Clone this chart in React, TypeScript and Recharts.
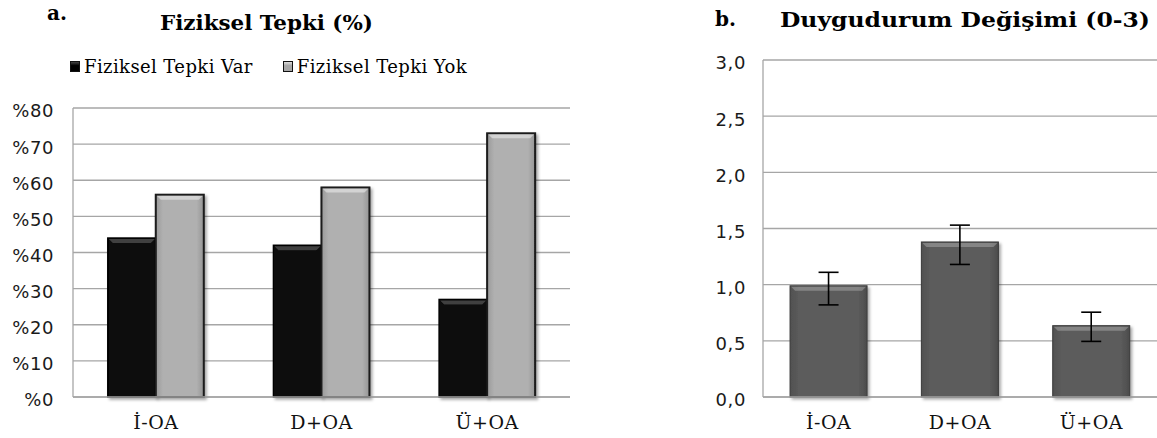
import React from 'react';
import { BarChart, Bar, XAxis, YAxis, CartesianGrid, Legend, ErrorBar } from 'recharts';

// ---- data ----
const categories = ['İ-OA', 'D+OA', 'Ü+OA'];
const tepkiVar = [44, 42, 27];
const tepkiYok = [56, 58, 73];
const percentTicks = [0, 10, 20, 30, 40, 50, 60, 70, 80];
const moodMeans = [0.99, 1.38, 0.635];
const moodErrLow = [0.17, 0.2, 0.14];
const moodErrHigh = [0.12, 0.15, 0.12];
const moodTicks = [0, 0.5, 1, 1.5, 2, 2.5, 3];

const leftData = categories.map((c, i) => ({ name: c, var: tepkiVar[i], yok: tepkiYok[i] }));
const rightData = categories.map((c, i) => ({ name: c, mean: moodMeans[i], err: [moodErrLow[i], moodErrHigh[i]] }));

const GRID = '#a6a6a6';
const SERIF = '"DejaVu Serif", serif';
const SANS = '"DejaVu Sans", sans-serif';

const BevelBar = (props: any) => {
  const { x, y, width, height, gradId, stroke, highlight, sw } = props;
  if (!height || height <= 0) return null;
  const b = Math.min(4, height / 2);
  return (
    <g filter="url(#barShadow)">
      <rect x={x} y={y} width={width} height={height} fill={`url(#${gradId})`} stroke={stroke} strokeWidth={sw} />
      <polygon
        points={`${x + 1},${y + 1} ${x + width - 1},${y + 1} ${x + width - 1 - b},${y + 1 + b} ${x + 1 + b},${y + 1 + b}`}
        fill={highlight}
      />
    </g>
  );
};

const Defs = () => (
  <defs>
    <filter id="barShadow" x="-20%" y="-10%" width="150%" height="130%">
      <feDropShadow dx="2" dy="2" stdDeviation="1.5" floodColor="#000" floodOpacity="0.35" />
    </filter>
    <linearGradient id="gVar" x1="0" y1="0" x2="1" y2="0">
      <stop offset="0%" stopColor="#0a0a0a" />
      <stop offset="100%" stopColor="#0a0a0a" />
    </linearGradient>
    <linearGradient id="gYok" x1="0" y1="0" x2="1" y2="0">
      <stop offset="0%" stopColor="#9a9a9a" />
      <stop offset="15%" stopColor="#b0b0b0" />
      <stop offset="85%" stopColor="#b0b0b0" />
      <stop offset="100%" stopColor="#959595" />
    </linearGradient>
    <linearGradient id="gMood" x1="0" y1="0" x2="1" y2="0">
      <stop offset="0%" stopColor="#505050" />
      <stop offset="12%" stopColor="#5c5c5c" />
      <stop offset="88%" stopColor="#5c5c5c" />
      <stop offset="100%" stopColor="#4c4c4c" />
    </linearGradient>
  </defs>
);

const iconBg: Record<string, string> = {
  '#000': 'linear-gradient(#444, #000 40%)',
  '#a6a6a6': 'linear-gradient(#ddd, #a6a6a6 40%)',
};

const LeftLegend = (props: any) => {
  const { payload = [] } = props;
  return (
    <div style={{ display: 'flex', alignItems: 'center', fontFamily: SERIF, fontSize: 18, letterSpacing: 0.4, color: '#000', whiteSpace: 'nowrap' }}>
      {payload.map((p: any, i: number) => (
        <div key={i} style={{ display: 'flex', alignItems: 'center', marginRight: 30 }}>
          <span
            style={{
              display: 'inline-block',
              width: 8,
              height: 9,
              background: iconBg[p.color] || p.color,
              border: '1px solid #111',
              marginRight: 4,
            }}
          />
          <span>{p.value}</span>
        </div>
      ))}
    </div>
  );
};

const yTickStyle = { fontFamily: SANS, fontSize: 18, fill: '#1a1a1a', letterSpacing: 0.6, dy: 3 };
const xTickStyle = { fontFamily: SERIF, fontSize: 19, fill: '#111', letterSpacing: 0.5 };

export default function App() {
  return (
    <div style={{ position: 'absolute', left: 0, top: 0, width: 1157, height: 438, background: '#fff', overflow: 'hidden' }}>
      <div style={{ position: 'absolute', left: 0, top: 0 }}>
        <BarChart width={580} height={438} data={leftData} margin={{ top: 108, right: 10, bottom: 11, left: 0 }} barCategoryGap="21%" barGap={0}>
          <Defs />
          <CartesianGrid vertical={false} stroke={GRID} strokeWidth={1.3} />
          <XAxis dataKey="name" height={30} tickSize={0} tickMargin={19} tickLine={false} axisLine={{ stroke: GRID, strokeWidth: 1.3 }} tick={xTickStyle} />
          <YAxis
            width={73}
            domain={[0, 80]}
            ticks={percentTicks}
            interval={0}
            tickSize={0}
            tickMargin={19}
            tickLine={false}
            axisLine={{ stroke: GRID, strokeWidth: 1.3 }}
            tick={yTickStyle}
            tickFormatter={(v: number) => `%${v}`}
          />
          <Legend
            layout="horizontal"
            verticalAlign="middle"
            align="center"
            content={<LeftLegend />}
            wrapperStyle={{ top: 56, left: 70, width: 'auto' }}
          />
          <Bar
            dataKey="var"
            name="Fiziksel Tepki Var"
            fill="#000"
            isAnimationActive={false}
            shape={(p: any) => <BevelBar {...p} gradId="gVar" stroke="#000" sw={1.5} highlight="rgba(255,255,255,0.22)" />}
          />
          <Bar
            dataKey="yok"
            name="Fiziksel Tepki Yok"
            fill="#a6a6a6"
            isAnimationActive={false}
            shape={(p: any) => <BevelBar {...p} gradId="gYok" stroke="#1a1a1a" sw={2} highlight="rgba(255,255,255,0.45)" />}
          />
        </BarChart>
      </div>
      <div style={{ position: 'absolute', left: 680, top: 0 }}>
        <BarChart width={477} height={438} data={rightData} margin={{ top: 60, right: 0, bottom: 11, left: 0 }} barCategoryGap="20.6%">
          <Defs />
          <CartesianGrid vertical={false} stroke={GRID} strokeWidth={1.3} />
          <XAxis dataKey="name" height={30} tickSize={0} tickMargin={19} tickLine={false} axisLine={{ stroke: GRID, strokeWidth: 1.3 }} tick={xTickStyle} />
          <YAxis
            width={83}
            domain={[0, 3]}
            ticks={moodTicks}
            interval={0}
            tickSize={0}
            tickMargin={17}
            tickLine={false}
            axisLine={{ stroke: GRID, strokeWidth: 1.3 }}
            tick={yTickStyle}
            tickFormatter={(v: number) => v.toFixed(1).replace('.', ',')}
          />
          <Bar
            dataKey="mean"
            fill="#5c5c5c"
            isAnimationActive={false}
            shape={(p: any) => <BevelBar {...p} gradId="gMood" stroke="#3a3a3a" sw={1} highlight="rgba(255,255,255,0.25)" />}
          >
            <ErrorBar dataKey="err" direction="y" width={10} stroke="#000" strokeWidth={1.6} />
          </Bar>
        </BarChart>
      </div>
      <svg width={1157} height={438} style={{ position: 'absolute', left: 0, top: 0, pointerEvents: 'none' }}>
        <g fontFamily={SERIF} fontWeight="bold" fill="#000">
          <text x={47} y={20} fontSize={20}>a.</text>
          <text x={160} y={30} fontSize={20} textLength={213} lengthAdjust="spacingAndGlyphs">Fiziksel Tepki (%)</text>
          <text x={715} y={26} fontSize={20}>b.</text>
          <text x={780} y={27} fontSize={20} textLength={370} lengthAdjust="spacingAndGlyphs">Duygudurum Değişimi (0-3)</text>
        </g>
      </svg>
    </div>
  );
}
